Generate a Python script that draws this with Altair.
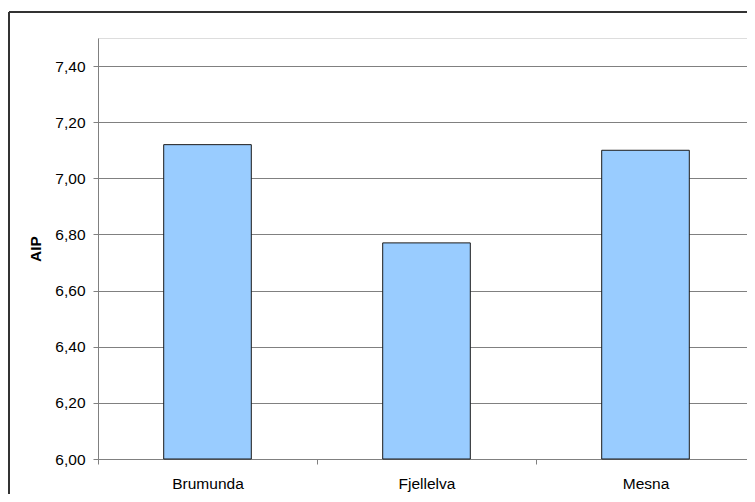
import altair as alt
import pandas as pd

sites = ["Brumunda", "Fjellelva", "Mesna"]
aip = [7.12, 6.77, 7.10]
y_ticks = [6.0, 6.2, 6.4, 6.6, 6.8, 7.0, 7.2, 7.4]

df = pd.DataFrame({"site": sites, "aip": aip})

FONT = "Liberation Sans"
GRAY = "#808080"
FRAME = "#333333"

one = alt.Data(values=[{"a": 1}])
frame_top = alt.Chart(one).mark_rule(color=FRAME, strokeWidth=2).encode(
    x=alt.value(-89), x2=alt.value(700), y=alt.value(-26),
)
frame_left = alt.Chart(one).mark_rule(color=FRAME, strokeWidth=2).encode(
    x=alt.value(-89), y=alt.value(-26), y2=alt.value(600),
)

bars = alt.Chart(df).mark_bar(
    color="#99CCFF", stroke="#1a1a1a", strokeWidth=1,
    width=alt.RelativeBandSize(0.4),
).encode(
    x=alt.X("site:N", sort=sites, title=None,
            scale=alt.Scale(paddingInner=0, paddingOuter=0, range=[0, 657]),
            axis=alt.Axis(tickBand="extent", labelAngle=0, labelFont=FONT,
                          labelFontSize=15.5, labelColor="black", labelPadding=12,
                          tickSize=5, tickColor=GRAY, domainColor=GRAY,
                          grid=False)),
    y=alt.Y("aip:Q", title="AIP",
            scale=alt.Scale(domain=[6.0, 7.5], nice=False, zero=False),
            axis=alt.Axis(values=y_ticks,
                          labelExpr="replace(format(datum.value, '.2f'), '.', ',')",
                          labelFont=FONT, labelFontSize=15.5, labelColor="black",
                          labelPadding=8, tickSize=5, tickColor=GRAY,
                          domainColor=GRAY, gridColor=GRAY, gridWidth=1,
                          titleFont=FONT, titleFontSize=15.5, titleFontWeight="bold",
                          titleColor="black", titleX=-63, titleBaseline="middle")),
    y2=alt.datum(6.0),
)

chart = alt.layer(frame_top, frame_left, bars).properties(
    width=649, height=421,
    autosize=alt.AutoSizeParams(type="none"),
    padding={"left": 90, "top": 30, "right": 0, "bottom": 35},
).configure_view(strokeWidth=0).configure(background="white")

chart.save("out.html", embed_options={"renderer": "svg", "actions": False})
